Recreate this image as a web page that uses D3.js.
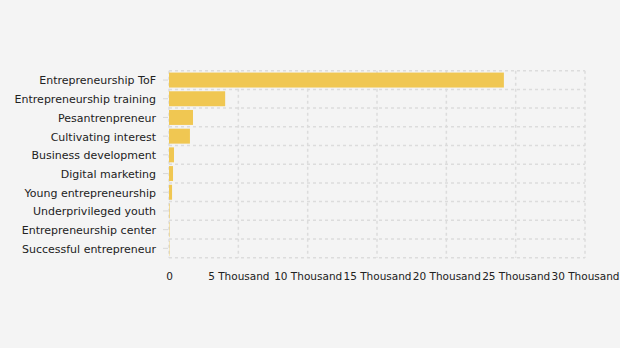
<!DOCTYPE html>
<html><head><meta charset="utf-8">
<script src="https://cdn.jsdelivr.net/npm/d3@7"></script>
<style>body{margin:0;background:#f4f4f4}svg{display:block}</style>
</head><body>
<svg id="c" width="620" height="348"></svg>
<script>
const categories = ["Entrepreneurship ToF","Entrepreneurship training","Pesantrenpreneur","Cultivating interest","Business development","Digital marketing","Young entrepreneurship","Underprivileged youth","Entrepreneurship center","Successful entrepreneur"];
const values = [24150, 4050, 1730, 1510, 360, 290, 220, 40, 30, 25];
const tickValues = [0, 5000, 10000, 15000, 20000, 25000, 30000];
const tickLabels = ["0","5 Thousand","10 Thousand","15 Thousand","20 Thousand","25 Thousand","30 Thousand"];

const svg = d3.select("#c");
svg.append("rect").attr("width",620).attr("height",348).attr("fill","#f4f4f4");
const m = {left:169, right:585, top:70.7, bottom:257.7};
const x = d3.scaleLinear().domain([0,30000]).range([m.left,m.right]);
const y = d3.scaleBand().domain(categories).range([m.top,m.bottom]).paddingInner(0.2).paddingOuter(0.1);
const font = "'DejaVu Sans', Verdana, sans-serif";
const grid = "#dcdcdc";

const bounds = d3.range(categories.length+1).map(i => m.top + i*(m.bottom-m.top)/categories.length);
svg.append("g").selectAll("line").data(bounds).join("line")
  .attr("x1",m.left).attr("x2",m.right).attr("y1",d=>d).attr("y2",d=>d)
  .attr("stroke",grid).attr("stroke-width",1.5).attr("stroke-dasharray","3,3");
svg.append("g").selectAll("line").data(tickValues).join("line")
  .attr("x1",d=>x(d)).attr("x2",d=>x(d)).attr("y1",m.top).attr("y2",m.bottom)
  .attr("stroke",grid).attr("stroke-width",1.5).attr("stroke-dasharray","3,3");

svg.append("g").selectAll("rect").data(values).join("rect")
  .attr("x",x(0)).attr("y",(d,i)=>y(categories[i]))
  .attr("width",d=>Math.max(0,x(d)-x(0))).attr("height",y.bandwidth())
  .attr("fill","#f0c752");

const ya = svg.append("g").attr("transform",`translate(${m.left-1},0)`)
  .call(d3.axisLeft(y).tickSize(5).tickPadding(7));
ya.select(".domain").remove();
ya.selectAll(".tick line").attr("stroke","#d8d8d8");
ya.selectAll("text").attr("font-family",font).attr("font-size",11).attr("fill","#222").attr("dy","0.4em");

const xa = svg.append("g").attr("transform",`translate(0,${m.bottom})`)
  .call(d3.axisBottom(x).tickValues(tickValues).tickFormat((d,i)=>tickLabels[i]).tickSize(0).tickPadding(15));
xa.select(".domain").remove();
xa.selectAll("text").attr("font-family",font).attr("font-size",10.5).attr("fill","#222");
</script>
</body></html>
